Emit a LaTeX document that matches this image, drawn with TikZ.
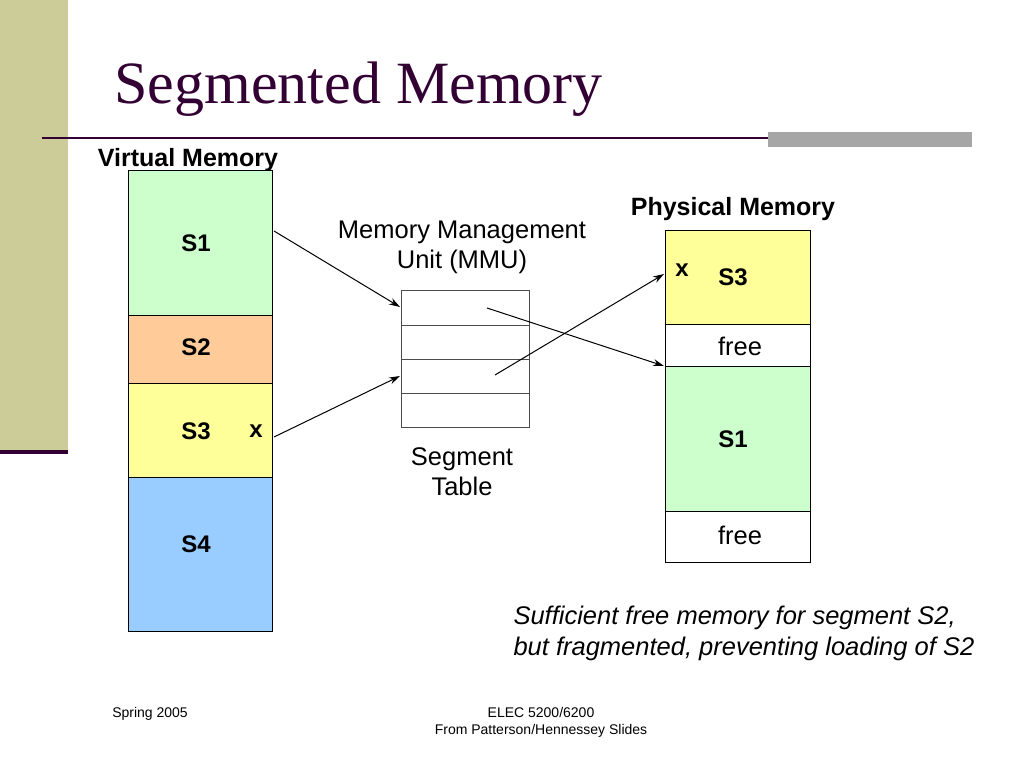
\documentclass[tikz,border=0pt]{standalone}
\usepackage{fontspec}
\setmainfont{Liberation Sans}
\newfontfamily\titlefont{Liberation Serif}
\usetikzlibrary{arrows.meta}
\definecolor{tan}{RGB}{204,204,153}
\definecolor{plum}{RGB}{51,0,51}
\definecolor{sgreen}{RGB}{204,255,204}
\definecolor{sorange}{RGB}{255,204,153}
\definecolor{syellow}{RGB}{255,255,153}
\definecolor{sblue}{RGB}{153,204,255}
\begin{document}
\begin{tikzpicture}[x=1pt,y=-1pt,
  seg/.style={draw=black,line width=0.8pt},
  lbl/.style={font=\fontsize{24}{28}\selectfont\bfseries,anchor=center},
  txt/.style={font=\fontsize{25.5}{30}\selectfont,anchor=center},
  arr/.style={-{Stealth[length=11pt,width=7pt]},line width=1pt}]
\useasboundingbox (0,0) rectangle (1024,768);
\fill[white] (0,0) rectangle (1024,768);
\fill[tan] (0,0) rectangle (68,450);
\draw[plum,line width=4pt] (0,452) -- (68,452);
\node[font=\titlefont\fontsize{60}{66}\selectfont,text=plum,anchor=base west] (title) at (111,103) {Segmented Memory};
\draw[plum,line width=2pt] (42,138) -- (770,138);
\fill[gray!70] (768,132) rectangle (972,147);
\node[font=\fontsize{25}{30}\selectfont\bfseries] (vm) at (188,160) {Virtual Memory};
% virtual column
\draw[seg,fill=sgreen] (128,170) rectangle (272,315);
\draw[seg,fill=sorange] (128,315) rectangle (272,383);
\draw[seg,fill=syellow] (128,383) rectangle (272,477);
\draw[seg,fill=sblue] (128,477) rectangle (272,631);
\node[lbl] (vs1) at (196,243) {S1};
\node[lbl] (vs2) at (196,347) {S2};
\node[lbl] (vs3) at (196,431) {S3};
\node[lbl] (vx) at (256,431) {x};
\node[lbl] (vs4) at (196,544) {S4};
% MMU
\node[txt,align=center] (mmu) at (462,247) {Memory Management\\Unit (MMU)};
\foreach \a/\b in {290/325,325/359,359/393,393/427}
  \draw[line width=0.6pt,black!70] (401,\a) rectangle (529,\b);
\node[txt,align=center] (st) at (462,472) {Segment\\Table};
% physical
\node[font=\fontsize{25}{30}\selectfont\bfseries] (pm) at (733,209) {Physical Memory};
\draw[seg,fill=syellow] (665,230) rectangle (810,324);
\draw[seg,fill=white] (665,324) rectangle (810,366);
\draw[seg,fill=sgreen] (665,366) rectangle (810,511);
\draw[seg,fill=white] (665,511) rectangle (810,562);
\node[lbl] (px) at (682,270) {x};
\node[lbl] (ps3) at (733,277) {S3};
\node[txt] (pf1) at (740,346) {free};
\node[lbl] (ps1) at (733,439) {S1};
\node[txt] (pf2) at (740,535) {free};
% arrows
\coordinate (a1) at (274,231); \coordinate (a1e) at (400,307);
\coordinate (a2) at (274,437); \coordinate (a2e) at (400,376);
\coordinate (a3) at (487,308); \coordinate (a3e) at (664,366);
\coordinate (a4) at (495,375); \coordinate (a4e) at (664,274);
\draw[arr] (a1) -- (a1e);
\draw[arr] (a2) -- (a2e);
\draw[arr] (a3) -- (a3e);
\draw[arr] (a4) -- (a4e);
\node[font=\fontsize{25.5}{31}\selectfont\itshape,align=left,anchor=north west] (note) at (510,602) {Sufficient free memory for segment S2,\\but fragmented, preventing loading of S2};
\node[font=\fontsize{14}{16}\selectfont] (f1) at (150,714) {Spring 2005};
\node[font=\fontsize{14}{17}\selectfont,align=center] (f2) at (541,722) {ELEC 5200/6200\\From Patterson/Hennessey Slides};
\end{tikzpicture}
\end{document}
